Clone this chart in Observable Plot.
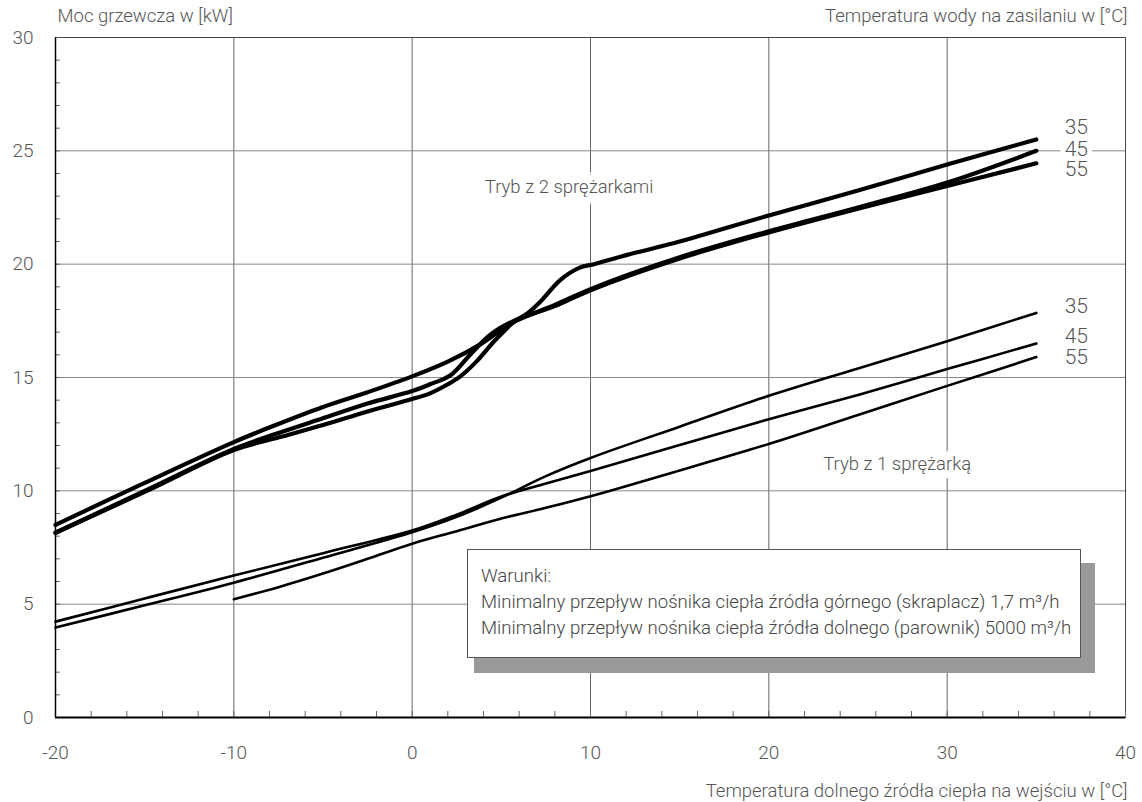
<!DOCTYPE html>
<html>
<head>
<meta charset="utf-8">
<script src="https://cdn.jsdelivr.net/npm/d3@7"></script>
<script src="https://cdn.jsdelivr.net/npm/@observablehq/plot@0.6"></script>
<style>
  body { margin: 0; background: #fff; }
  #wrap { position: relative; width: 1142px; height: 802px; font-family: Roboto, "Liberation Sans", sans-serif; font-weight: 300; color: #444; }
  #shadow { position: absolute; left: 474px; top: 563px; width: 621px; height: 110px; background: #999; }
  #box { position: absolute; left: 467px; top: 549px; width: 599px; height: 94px; background: #fff; border: 1px solid #555; padding: 13px 0 0 13px; font-size: 18.6px; line-height: 26px; color: #444; white-space: nowrap; }
</style>
</head>
<body>
<div id="wrap"></div>
<script>
// ---- Data ----
const xMajorTicks = [-20, -10, 0, 10, 20, 30, 40];
const yMajorTicks = [0, 5, 10, 15, 20, 25, 30];
const seriesLabels = ["35", "45", "55"];

// Two-compressor mode (thick lines)
const two35X = [-20, -15, -10, -7.5, -5, -2.5, 0, 1, 2, 2.7, 3.6, 4.6, 5.7, 6.5, 7.2, 8.3, 9.4, 10.2, 12.5, 15, 20, 25, 30, 35];
const two35Y = [8.15, 9.95, 11.8, 12.35, 12.9, 13.5, 14.05, 14.3, 14.7, 15.05, 15.7, 16.6, 17.45, 17.85, 18.35, 19.3, 19.85, 20.0, 20.5, 21.0, 22.15, 23.25, 24.4, 25.5];
const two45X = [-20, -15, -10, -7.5, -5, -2.5, 0, 2, 3.8, 5.7, 8, 10, 15, 20, 25, 30, 35];
const two45Y = [8.5, 10.35, 12.15, 12.95, 13.7, 14.35, 15.05, 15.7, 16.45, 17.45, 18.2, 18.9, 20.3, 21.45, 22.5, 23.6, 25.0];
const two55X = [-20, -15, -10, -7.5, -5, -2.5, 0, 1, 2.15, 3.3, 4.4, 5.7, 8, 10, 15, 20, 25, 30, 35];
const two55Y = [8.15, 10.0, 11.85, 12.55, 13.2, 13.85, 14.4, 14.7, 15.1, 16.05, 16.9, 17.5, 18.15, 18.85, 20.25, 21.4, 22.45, 23.45, 24.45];

// One-compressor mode (thin lines)
const one35X = [-20, -15, -10, -5, 0, 2.5, 5, 7.5, 10, 15, 20, 25, 30, 35];
const one35Y = [3.97, 4.95, 5.95, 7.05, 8.17, 8.85, 9.7, 10.65, 11.45, 12.83, 14.19, 15.4, 16.6, 17.85];
const one45X = [-20, -15, -10, -5, 0, 2.5, 5, 7.5, 10, 15, 20, 25, 30, 35];
const one45Y = [4.23, 5.25, 6.26, 7.25, 8.25, 8.95, 9.75, 10.32, 10.88, 12.02, 13.16, 14.23, 15.37, 16.5];
const one55X = [-10, -7.5, -5, -2.5, 0, 2.5, 5, 7.5, 10, 15, 20, 25, 30, 35];
const one55Y = [5.22, 5.75, 6.35, 7.0, 7.67, 8.22, 8.78, 9.25, 9.76, 10.9, 12.07, 13.35, 14.63, 15.9];

const toRows = (xs, ys, series) => xs.map((x, i) => ({x, y: ys[i], series}));
const twoRows = [
  ...toRows(two35X, two35Y, "35"),
  ...toRows(two45X, two45Y, "45"),
  ...toRows(two55X, two55Y, "55")
];
const oneRows = [
  ...toRows(one35X, one35Y, "35"),
  ...toRows(one45X, one45Y, "45"),
  ...toRows(one55X, one55Y, "55")
];
const lastOf = (xs, ys, label) => ({x: xs[xs.length - 1], y: ys[ys.length - 1], label});
const twoEnds = [lastOf(two35X, two35Y, seriesLabels[0]), lastOf(two45X, two45Y, seriesLabels[1]), lastOf(two55X, two55Y, seriesLabels[2])];
const oneEnds = [lastOf(one35X, one35Y, seriesLabels[0]), lastOf(one45X, one45Y, seriesLabels[1]), lastOf(one55X, one55Y, seriesLabels[2])];

const txt = "#555";
const font = "Roboto, 'Liberation Sans', sans-serif";
const endLabel = (d, dy) => Plot.text([d], {x: "x", y: "y", text: "label", dx: 40, dy, fontSize: 21, fill: txt, stroke: "white", strokeWidth: 10, paintOrder: "stroke", textAnchor: "middle", fontWeight: 300});

const chart = Plot.plot({
  width: 1142,
  height: 802,
  marginLeft: 55,
  marginRight: 17,
  marginTop: 37,
  marginBottom: 85,
  style: {fontFamily: font, fontWeight: 300, color: txt, background: "white"},
  x: {domain: [-20, 40]},
  y: {domain: [0, 30]},
  marks: [
    Plot.gridX(xMajorTicks, {stroke: "#666", strokeOpacity: 1, strokeWidth: 1}),
    Plot.gridY(yMajorTicks, {stroke: "#888", strokeOpacity: 1, strokeWidth: 1}),
    Plot.frame({stroke: "#444", strokeWidth: 1}),
    Plot.axisX({ticks: d3.range(-20, 41, 2), tickSize: -6, tickFormat: () => "", label: null, stroke: "#666"}),
    Plot.axisY({ticks: d3.range(0, 31, 1), tickSize: -5, tickFormat: () => "", label: null, stroke: "#666"}),
    Plot.axisX(xMajorTicks, {tickSize: 0, tickPadding: 28, fontSize: 19, label: null, fill: txt, fontWeight: 300, tickFormat: d => String(d)}),
    Plot.axisY(yMajorTicks, {tickSize: 0, tickPadding: 22, fontSize: 19, label: null, fill: txt, fontWeight: 300, tickFormat: d => String(d)}),
    Plot.ruleY([0], {stroke: "black", strokeWidth: 2}),
    Plot.ruleX([-20], {stroke: "black", strokeWidth: 1.5}),
    Plot.text(["Tryb z 2 sprężarkami"], {x: 8.8, y: 23.4, fontSize: 18.5, fill: txt, stroke: "white", strokeWidth: 16, paintOrder: "stroke", fontWeight: 300}),
    Plot.text(["Tryb z 1 sprężarką"], {x: 27.2, y: 11.2, fontSize: 18.5, fill: txt, stroke: "white", strokeWidth: 16, paintOrder: "stroke", fontWeight: 300}),
    Plot.line(oneRows, {x: "x", y: "y", z: "series", stroke: "black", strokeWidth: 2.6, curve: "catmull-rom", strokeLinecap: "round"}),
    Plot.line(twoRows, {x: "x", y: "y", z: "series", stroke: "black", strokeWidth: 4.2, curve: "catmull-rom", strokeLinecap: "round"}),
    endLabel(twoEnds[0], -12), endLabel(twoEnds[1], -2), endLabel(twoEnds[2], 6),
    endLabel(oneEnds[0], -7), endLabel(oneEnds[1], -7), endLabel(oneEnds[2], 0),
    Plot.text(["Moc grzewcza w [kW]"], {frameAnchor: "top-left", dx: 2, dy: -29, fontSize: 18.5, fill: txt, textAnchor: "start", fontWeight: 300}),
    Plot.text(["Temperatura wody na zasilaniu w [°C]"], {frameAnchor: "top-right", dx: 2, dy: -29, fontSize: 18.5, fill: txt, textAnchor: "end", fontWeight: 300}),
    Plot.text(["Temperatura dolnego źródła ciepła na wejściu w [°C]"], {frameAnchor: "bottom-right", dx: 2, dy: 79, fontSize: 18.5, fill: txt, textAnchor: "end", fontWeight: 300})
  ]
});

const wrap = document.getElementById("wrap");
wrap.appendChild(chart);
const shadow = document.createElement("div");
shadow.id = "shadow";
wrap.appendChild(shadow);
const box = document.createElement("div");
box.id = "box";
box.innerHTML = "Warunki:<br>Minimalny przepływ nośnika ciepła źródła górnego (skraplacz) 1,7 m³/h<br>Minimalny przepływ nośnika ciepła źródła dolnego (parownik) 5000 m³/h";
wrap.appendChild(box);
chart.style.position = "absolute";
chart.style.left = "0";
chart.style.top = "0";
</script>
</body>
</html>
